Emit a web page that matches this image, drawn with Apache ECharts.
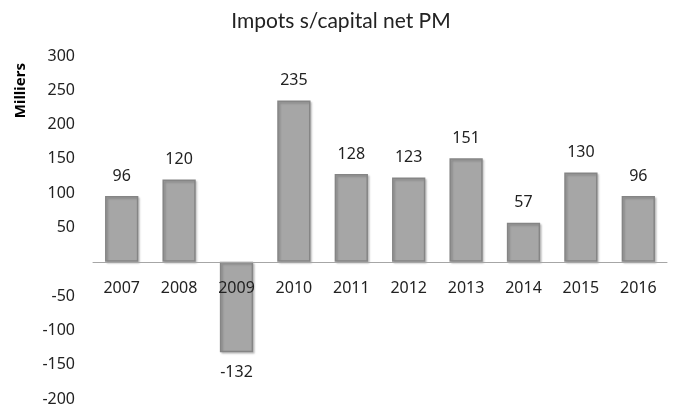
<!DOCTYPE html>
<html>

<head>
    <meta charset="utf-8">
    <script src="https://cdn.jsdelivr.net/npm/echarts@6/dist/echarts.min.js"></script>
</head>

<body>
    <div id="chart"></div>
</body>
<style>
    body {
        margin: 0;
        background: #fff;
    }

    #chart {
        width: 682px;
        height: 412px;
    }
</style>
<script>
    // données (milliers)
    const years = ['2007', '2008', '2009', '2010', '2011', '2012', '2013', '2014', '2015', '2016']
    const values = [96, 120, -132, 235, 128, 123, 151, 57, 130, 96]
    const titleText = 'Impots s/capital net PM'
    const yName = 'Milliers'

    const chart = echarts.init(document.getElementById('chart'))
    const font = '"Noto Sans", "Open Sans", sans-serif'

    // grille : haut 56, bas 399 -> zéro à 3/5 de la hauteur
    const gridTop = 56, gridBottom = 13
    const plotH = 412 - gridTop - gridBottom
    const zeroOffset = plotH * 200 / 500

    let data = values.map(v => ({
        value: v,
        label: { position: v < 0 ? 'bottom' : 'top' }
    }))

    let option = {
        animation: false,
        title: {
            text: titleText,
            left: 'center',
            top: 6,
            textStyle: {
                fontFamily: '"Lato", "Noto Sans", sans-serif',
                fontWeight: 'normal',
                fontSize: 21,
                color: '#222'
            }
        },
        graphic: [{
            type: 'text',
            left: 13,
            top: 63,
            rotation: Math.PI / 2,
            style: {
                text: yName,
                font: 'bold 15px ' + font,
                fill: '#000'
            }
        }],
        grid: {
            left: 93,
            right: 15,
            top: gridTop,
            bottom: gridBottom,
            containLabel: false,
            outerBoundsMode: 'none'
        },
        xAxis: {
            type: 'category',
            data: years,
            offset: -zeroOffset,
            axisLine: { onZero: false, lineStyle: { color: '#a6a6a6', width: 1 } },
            axisTick: { show: false },
            axisLabel: {
                interval: 0,
                margin: 19,
                fontFamily: font,
                fontSize: 16,
                color: '#222'
            },
            z: 5
        },
        yAxis: {
            type: 'value',
            min: -200,
            max: 300,
            interval: 50,
            splitLine: { show: false },
            axisLine: { show: false },
            axisTick: { show: false },
            axisLabel: {
                margin: 18,
                fontFamily: font,
                fontSize: 16,
                color: '#222',
                formatter: v => (v === 0 ? '' : v)
            }
        },
        series: [{
            type: 'bar',
            data,
            barWidth: '58%',
            z: 2,
            itemStyle: {
                color: '#a6a6a6',
                borderColor: '#858585',
                borderWidth: 1.5,
                shadowBlur: 2,
                shadowOffsetX: 1.5,
                shadowOffsetY: 1.5,
                shadowColor: 'rgba(0,0,0,0.2)'
            },
            label: {
                show: true,
                distance: 12,
                fontFamily: font,
                fontSize: 16,
                color: '#222'
            }
        }]
    }
    chart.setOption(option)
</script>

</html>
